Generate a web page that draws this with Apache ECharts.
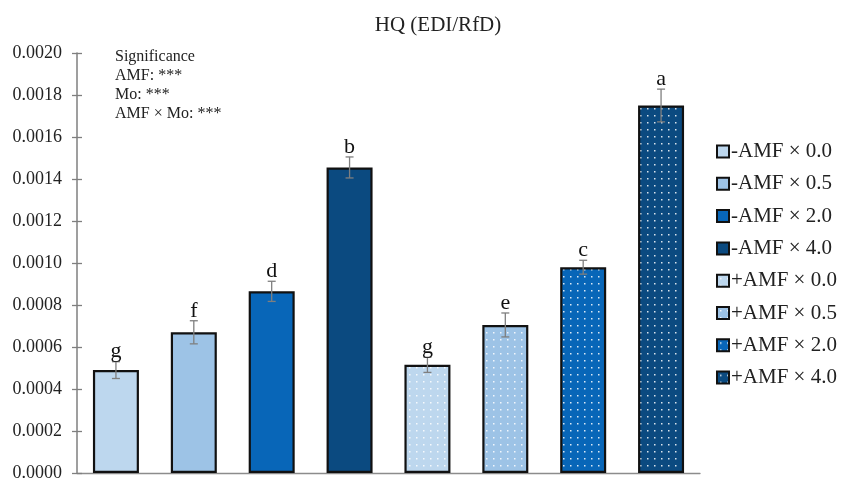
<!DOCTYPE html>
<html>
<head>
<meta charset="utf-8">
<script src="https://cdn.jsdelivr.net/npm/echarts@6/dist/echarts.min.js"></script>
<style>
  html, body { margin: 0; padding: 0; background: #fff; }
  #chart { width: 841px; height: 482px; }
</style>
</head>
<body>
<div id="chart"></div>
<script>
// Treatments (AMF inoculation × Mo level)
const categories = ['-AMF × 0.0', '-AMF × 0.5', '-AMF × 2.0', '-AMF × 4.0',
                    '+AMF × 0.0', '+AMF × 0.5', '+AMF × 2.0', '+AMF × 4.0'];
// Hazard quotient means and standard errors
const means  = [0.00049, 0.00067, 0.000865, 0.001455, 0.000515, 0.000705, 0.00098, 0.00175];
const errors = [0.00004, 0.000055, 0.000048, 0.00005, 0.000036, 0.000057, 0.000033, 0.000078];
// Post-hoc grouping letters
const letters = ['g', 'f', 'd', 'b', 'g', 'e', 'c', 'a'];
// Y-axis ticks
const yMin = 0, yMax = 0.002, yStep = 0.0002;
// Significance annotation lines
const significance = ['Significance', 'AMF: ***', 'Mo: ***', 'AMF × Mo: ***'];

const baseColors = ['#BDD7EE', '#9DC3E6', '#0866B8', '#0B4A80'];
const SERIF = '"Liberation Serif", "DejaVu Serif", serif';

// dotted fill used for the +AMF bars
function dotPattern(bg) {
  const c = document.createElement('canvas');
  c.width = 7; c.height = 7;
  const ctx = c.getContext('2d');
  ctx.fillStyle = bg;
  ctx.fillRect(0, 0, 7, 7);
  ctx.fillStyle = 'rgba(255,255,255,0.85)';
  ctx.fillRect(3, 3, 1.5, 1.5);
  return c;
}

const barSeries = categories.map((name, i) => {
  const base = baseColors[i % 4];
  const fill = i < 4 ? base : { image: dotPattern(base), repeat: 'repeat' };
  const data = categories.map((_, j) => (j === i ? means[j] : null));
  return {
    name: name,
    type: 'bar',
    data: data,
    barWidth: 46,
    barGap: '-100%',
    itemStyle: { color: fill, borderColor: '#111', borderWidth: 2.2 },
    emphasis: { disabled: true },
    silent: true
  };
});

const errorSeries = {
  type: 'custom',
  name: 'err',
  silent: true,
  z: 10,
  data: means.map((m, i) => [i, m, errors[i]]),
  renderItem: function (params, api) {
    const x = api.value(0), m = api.value(1), e = api.value(2);
    const top = api.coord([x, m + e]);
    const bot = api.coord([x, m - e]);
    const cap = 4;
    const style = { stroke: '#7F7F7F', lineWidth: 1.3 };
    return {
      type: 'group',
      children: [
        { type: 'line', shape: { x1: top[0], y1: top[1], x2: bot[0], y2: bot[1] }, style: style },
        { type: 'line', shape: { x1: top[0] - cap, y1: top[1], x2: top[0] + cap, y2: top[1] }, style: style },
        { type: 'line', shape: { x1: bot[0] - cap, y1: bot[1], x2: bot[0] + cap, y2: bot[1] }, style: style },
        { type: 'text', x: top[0], y: top[1] + 1,
          style: { text: letters[params.dataIndex], font: '22px ' + SERIF, fill: '#111',
                   align: 'center', verticalAlign: 'bottom' } }
      ]
    };
  }
};

const chart = echarts.init(document.getElementById('chart'), null, { renderer: 'canvas' });
chart.setOption({
  animation: false,
  backgroundColor: '#fff',
  title: {
    text: 'HQ (EDI/RfD)',
    left: 433, top: 10, textAlign: 'center',
    textStyle: { fontFamily: SERIF, fontSize: 21, fontWeight: 'normal', color: '#222' }
  },
  grid: { left: 77, right: 141, top: 53, bottom: 8, containLabel: false },
  legend: {
    data: categories,
    orient: 'vertical',
    left: 711, top: 136,
    itemWidth: 12, itemHeight: 12, itemGap: 11.3,
    icon: 'rect',
    itemStyle: { borderColor: '#111', borderWidth: 2 },
    textStyle: { fontFamily: SERIF, fontSize: 21, color: '#222', padding: [0, 0, 0, -3] },
    selectedMode: false
  },
  xAxis: {
    type: 'category',
    data: categories,
    axisLine: { lineStyle: { color: '#8C8C8C', width: 1.3 } },
    axisTick: { show: false },
    axisLabel: { show: false }
  },
  yAxis: [{
    type: 'value',
    min: yMin, max: yMax, interval: yStep,
    axisLine: { show: true, lineStyle: { color: '#7F7F7F', width: 1.5 } },
    axisTick: { show: true, length: 5, lineStyle: { color: '#7F7F7F', width: 1.3 } },
    splitLine: { show: false },
    axisLabel: {
      margin: 15,
      formatter: v => v.toFixed(4),
      fontFamily: SERIF, fontSize: 18, color: '#222'
    }
  }, {
    type: 'value',
    position: 'left',
    min: yMin, max: yMax, interval: yStep,
    axisLine: { show: false },
    axisTick: { show: true, inside: true, length: 5, lineStyle: { color: '#7F7F7F', width: 1.3 } },
    splitLine: { show: false },
    axisLabel: { show: false }
  }],
  graphic: significance.map((t, i) => ({
    type: 'text',
    left: 115, top: 49 + i * 19,
    style: { text: t, font: '16px ' + SERIF, fill: '#222' },
    silent: true
  })),
  series: barSeries.concat([errorSeries])
});
</script>
</body>
</html>
